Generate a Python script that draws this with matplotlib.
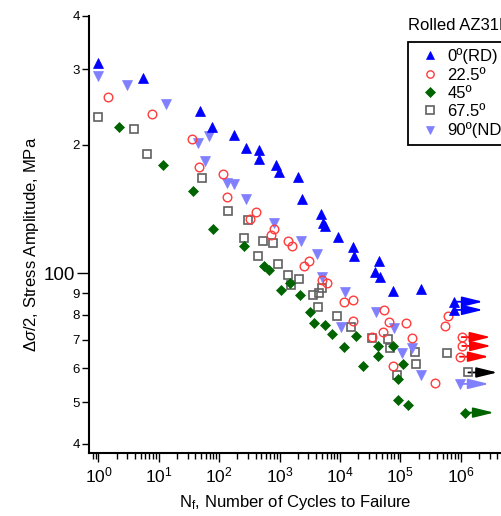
import matplotlib
matplotlib.use('Agg')
import matplotlib.pyplot as plt
import matplotlib.transforms as mtransforms
from matplotlib.ticker import LogLocator, FixedLocator, FixedFormatter, LogFormatterSciNotation, NullFormatter
from matplotlib.lines import Line2D

plt.rcParams['font.family'] = ['Liberation Sans', 'DejaVu Sans']
plt.rcParams['mathtext.fontset'] = 'custom'
plt.rcParams['mathtext.rm'] = 'Liberation Sans'
plt.rcParams['mathtext.it'] = 'Liberation Sans:italic'
plt.rcParams['mathtext.bf'] = 'Liberation Sans:bold'

# ---------------- data ----------------
labels = ['0º(RD)', '22.5º', '45º', '67.5º', '90º(ND)']

n_0 = [1.0, 5.5, 48, 77, 178, 277, 455, 455, 870, 980, 2040, 2320, 4850, 5170, 5650, 9400,
       16300, 17100, 44300, 38000, 46000, 76400, 220000]
s_0 = [310, 287, 240, 220, 211, 196, 194, 185, 179, 173, 168, 149, 138, 131, 129, 122,
       115, 110, 107, 101, 98.3, 91.2, 92]
n_0_run = [775000, 775000]
s_0_run = [85.9, 82.2]

n_22 = [1.46, 7.8, 35.8, 47.1, 117, 133, 402, 323, 807, 720, 1390, 1585, 3100, 2565, 4980,
        6170, 11800, 16200, 54200, 16200, 65600, 124000, 51000, 154000, 33500, 74700,
        375000, 623000, 550000]
s_22 = [258, 236, 206, 177, 171, 151, 139, 134, 127, 123, 119, 116, 107, 104, 96.6,
        94.9, 85.9, 86.7, 82.2, 77.6, 77.2, 76.5, 73.1, 70.6, 71.1, 60.8,
        55.6, 79.6, 75.4]
n_22_run = [1040000, 1060000, 973000]
s_22_run = [71.0, 67.7, 63.9]

n_45 = [2.23, 11.8, 36.5, 78.2, 260, 558, 667, 1055, 1486, 2176, 3190, 3755, 5650, 7290,
        11700, 18400, 24300, 43100, 42200, 76400, 112000, 92500, 92500, 135000]
s_45 = [220, 179, 156, 127, 116, 104, 102, 91.5, 94.9, 89.1, 81.4, 76.8, 75.8, 72.3,
        67.3, 71.4, 60.8, 67.7, 64.1, 67.7, 61.5, 56.6, 50.6, 49.3]
n_45_run = [1180000]
s_45_run = [47.3]

n_67 = [1.0, 3.95, 6.36, 51.2, 138, 296, 260, 537, 769, 444, 929, 1393, 2096, 1544, 3615,
        4540, 4980, 4275, 9030, 15000, 33500, 63100, 67300, 175000, 180000, 87000, 600000]
s_67 = [232, 218, 190, 167, 140, 133, 121, 119, 118, 110, 105, 99.2, 97.1, 94.0, 89.1,
        89.9, 92.3, 83.6, 79.6, 74.9, 70.6, 70.3, 66.9, 65.6, 61.5, 57.9, 65.3]
n_67_run = [1340000]
s_67_run = [58.7]

n_90 = [1.0, 3.0, 13.0, 68.4, 44.8, 59.2, 134, 177, 277, 807, 2305, 4150, 5040, 12100,
        38800, 10500, 80000, 105000, 159000, 216000]
s_90 = [289, 275, 249, 210, 202, 183, 163, 162, 149, 131, 119, 111, 98.1, 90.3,
        81.4, 74.8, 74.5, 65.1, 67.0, 57.9]
n_90_run = [973000]
s_90_run = [55.2]

x_major_ticks = [1e0, 1e1, 1e2, 1e3, 1e4, 1e5, 1e6]
y_minor_ticks = [40, 50, 60, 70, 80, 90, 200, 300, 400]
y_minor_labels = ['4', '5', '6', '7', '8', '9', '2', '3', '4']
y_major_ticks = [100]
y_major_labels = ['100']

# ---------------- figure ----------------
W, H = 502, 516
fig = plt.figure(figsize=(W / 100, H / 100), dpi=100)
x_right_px = 98.5 + 6.9 * 60.37
ax = fig.add_axes([89.3 / W, 1 - 453.3 / H, (x_right_px - 89.3) / W, (453.3 - 15.8) / H])
ax.set_xscale('log')
ax.set_yscale('log')
ax.set_xlim(0.705, 10 ** 6.9)
ax.set_ylim(38.0, 400)

blue = '#0000ff'
red = '#ff3b3b'
green = '#006400'
gray = '#606060'
lblue = '#8080ff'

styles = [
    dict(marker='^', color=blue, mfc=blue, mec=blue, ms=7.2, mew=0.5),
    dict(marker='o', color=red, mfc='none', mec=red, ms=6.2, mew=1.0),
    dict(marker='D', color=green, mfc=green, mec=green, ms=5.4, mew=0.5),
    dict(marker='s', color=gray, mfc='none', mec=gray, ms=6.3, mew=1.2),
    dict(marker='v', color=lblue, mfc=lblue, mec=lblue, ms=7.2, mew=0.5),
]
arrow_colors = [blue, '#ff0000', green, '#000000', lblue]

series = [
    (n_0, s_0, n_0_run, s_0_run),
    (n_22, s_22, n_22_run, s_22_run),
    (n_45, s_45, n_45_run, s_45_run),
    (n_67, s_67, n_67_run, s_67_run),
    (n_90, s_90, n_90_run, s_90_run),
]

order = [3, 2, 4, 1, 0]
zs = {3: 3, 2: 4, 4: 5, 1: 6, 0: 7}
offset = mtransforms.ScaledTranslation(0.29, 0, fig.dpi_scale_trans)
for i in order:
    n, s, nr, sr = series[i]
    st = styles[i]
    # runout arrows
    for xn, ys in zip(nr, sr):
        ax.annotate('', xy=(xn, ys), xycoords=ax.transData + offset,
                    xytext=(xn, ys), textcoords='data',
                    arrowprops=dict(arrowstyle='-|>,head_length=0.9,head_width=0.22',
                                    mutation_scale=14, lw=1.3, color=arrow_colors[i],
                                    shrinkA=0, shrinkB=0),
                    zorder=zs[i] - 0.5, annotation_clip=False)
    ax.plot(list(n) + list(nr), list(s) + list(sr), linestyle='none', zorder=zs[i],
            clip_on=False, **st)

# spines and ticks
for side in ['top', 'right']:
    ax.spines[side].set_visible(False)
for side in ['left', 'bottom']:
    ax.spines[side].set_linewidth(1.5)

ax.xaxis.set_major_locator(FixedLocator(x_major_ticks))
ax.xaxis.set_minor_locator(LogLocator(base=10, subs=[2, 3, 4, 5, 6, 7, 8, 9], numticks=20))
ax.xaxis.set_major_formatter(LogFormatterSciNotation())
ax.xaxis.set_minor_formatter(NullFormatter())
ax.tick_params(axis='x', which='major', direction='out', length=6.5, width=1.0, labelsize=12.5, pad=2)
ax.tick_params(axis='x', which='minor', direction='out', length=4.3, width=1.0)

ax.yaxis.set_major_locator(FixedLocator(y_major_ticks))
ax.yaxis.set_major_formatter(FixedFormatter(y_major_labels))
ax.yaxis.set_minor_locator(FixedLocator(y_minor_ticks))
ax.yaxis.set_minor_formatter(FixedFormatter(y_minor_labels))
ax.tick_params(axis='y', which='major', direction='out', length=8.6, width=1.0, labelsize=13.5, pad=2)
ax.tick_params(axis='y', which='minor', direction='out', length=4.8, width=1.0, labelsize=9.5, pad=2)

# labels
fig.text(32 / W, 1 - 244 / H, r'$\Delta\sigma$/2, Stress Amplitude, MPa', rotation=90,
         ha='center', va='center', fontsize=12)
fig.text(295 / W, 1 - 503 / H, r'N$_\mathrm{f}$, Number of Cycles to Failure',
         ha='center', va='center', fontsize=12)

# legend
handles = []
for i in range(5):
    st = dict(styles[i])
    handles.append(Line2D([], [], linestyle='none', **st))
leg = fig.legend(handles, labels, loc='upper left',
                 bbox_to_anchor=(407.7 / W, 1 - 42 / H), bbox_transform=fig.transFigure,
                 fontsize=12, frameon=True, fancybox=False, framealpha=1,
                 edgecolor='black', borderpad=0.38, handlelength=1.94, handletextpad=0.07,
                 labelspacing=0.2, borderaxespad=0, markerscale=0.85)
leg.get_frame().set_linewidth(1.3)
fig.text(408 / W, 1 - 25 / H, 'Rolled AZ31B', ha='left', va='center', fontsize=12)

fig.savefig('out.png', dpi=100)
